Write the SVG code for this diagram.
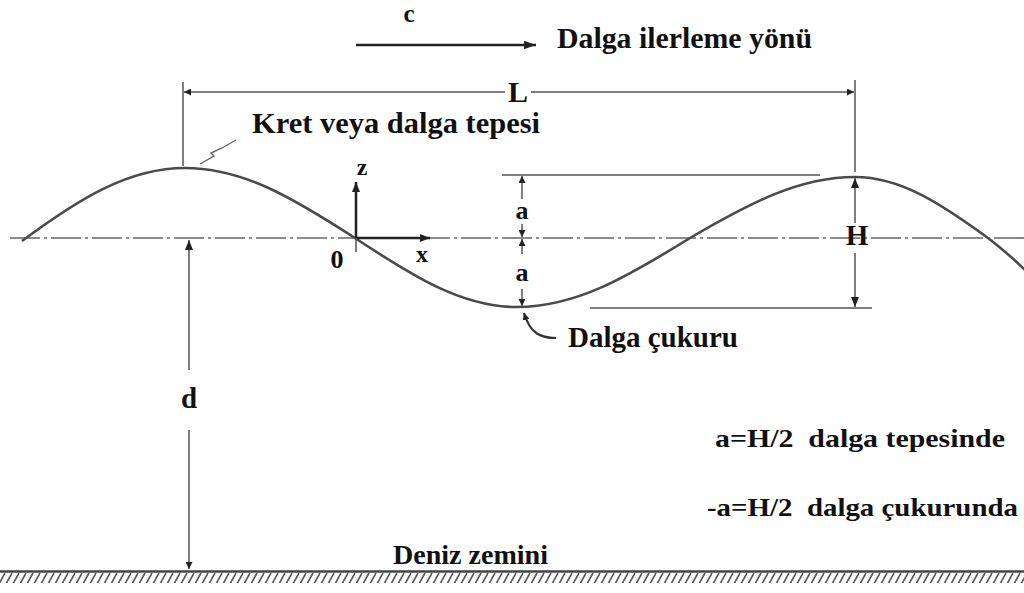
<svg xmlns="http://www.w3.org/2000/svg" width="1024" height="593" viewBox="0 0 1024 593">
<style>
.t{font-family:"Liberation Serif","Times New Roman",serif;font-weight:bold;fill:#111;}
.wave{fill:none;stroke:#4a4a4a;stroke-width:2.6;}
.dim{fill:none;stroke:#555;stroke-width:1.5;}
.ax{fill:none;stroke:#222;stroke-width:2.5;}
.mean{fill:none;stroke:#666;stroke-width:1.6;stroke-dasharray:30 4 3 4;}
</style>
<defs>
<marker id="ah" viewBox="0 0 10 10" refX="10" refY="5" markerWidth="7" markerHeight="7" markerUnits="userSpaceOnUse" orient="auto">
<path d="M0,0 L10,5 L0,10 z" fill="#222"/>
</marker>
<marker id="ahb" viewBox="0 0 10 10" refX="10" refY="5" markerWidth="10" markerHeight="10" markerUnits="userSpaceOnUse" orient="auto">
<path d="M0,1 L10,5 L0,9 z" fill="#222"/>
</marker>
<marker id="ahc" viewBox="0 0 10 10" refX="10" refY="5" markerWidth="16" markerHeight="12" markerUnits="userSpaceOnUse" orient="auto">
<path d="M0,1.5 L10,5 L0,8.5 z" fill="#222"/>
</marker>
<pattern id="hatch" x="0" y="573" width="7" height="11" patternUnits="userSpaceOnUse">
<path d="M-1,11 L5,0 M6,11 L12,0" stroke="#555" stroke-width="1.6"/>
</pattern>
</defs>

<g id="sea-floor">
<rect x="0" y="573" width="1024" height="10" fill="url(#hatch)"/>
<line x1="0" y1="571.5" x2="1024" y2="571.5" stroke="#444" stroke-width="2.4"/>
</g>

<g id="mean-level">
<line class="mean" x1="10" y1="238" x2="1024" y2="238"/>
</g>

<g id="wave">
<path class="wave" d="M22,241 C80,198 129,168 185,168 C243,168 293,198 355,238 C414,277 462,307 517,307 C576,307 627,277 690,238 C750,203 799,177 855,177 C900,177 940,203 988,238 C1005,251 1016,261 1028,273"/>
<path d="M200,164 L214,156 L211,153 L222,148 L236,140" fill="none" stroke="#666" stroke-width="1.4"/>
</g>

<g id="connectors">
<line class="ax" x1="356" y1="45" x2="536" y2="45" stroke-width="3" marker-end="url(#ahc)"/>
<line class="dim" x1="183" y1="82" x2="183" y2="166"/>
<line class="dim" x1="855" y1="80" x2="855" y2="172"/>
<line class="dim" x1="505" y1="92" x2="184" y2="92" marker-end="url(#ah)"/>
<line class="dim" x1="531" y1="92" x2="854" y2="92" marker-end="url(#ah)"/>
<line class="ax" x1="356" y1="238" x2="356" y2="182" marker-end="url(#ahb)"/>
<line class="ax" x1="356" y1="238" x2="430" y2="238" marker-end="url(#ahb)"/>
<line class="dim" x1="356" y1="238" x2="356" y2="252"/>
<line class="dim" x1="502" y1="175" x2="820" y2="175"/>
<line class="dim" x1="590" y1="308" x2="872" y2="308"/>
<line class="dim" x1="522" y1="199" x2="522" y2="176" marker-end="url(#ah)"/>
<line class="dim" x1="522" y1="224" x2="522" y2="237" marker-end="url(#ah)"/>
<line class="dim" x1="522" y1="254" x2="522" y2="239" marker-end="url(#ah)"/>
<line class="dim" x1="522" y1="289" x2="522" y2="306" marker-end="url(#ah)"/>
<line class="dim" x1="855" y1="223" x2="855" y2="178" marker-end="url(#ahb)"/>
<line class="dim" x1="855" y1="253" x2="855" y2="307" marker-end="url(#ahb)"/>
<line class="dim" x1="189" y1="370" x2="189" y2="240" marker-end="url(#ahb)"/>
<line class="dim" x1="189" y1="430" x2="189" y2="569" marker-end="url(#ah)"/>
<path d="M556,338 C540,338 530,333 524,313" fill="none" stroke="#333" stroke-width="2.2" marker-end="url(#ah)"/>
</g>

<g id="labels">
<text class="t" x="409" y="22" font-size="25" text-anchor="middle">c</text>
<text class="t" x="557" y="48" font-size="29" textLength="255" lengthAdjust="spacingAndGlyphs">Dalga ilerleme yönü</text>
<text class="t" x="518" y="102" font-size="30" text-anchor="middle">L</text>
<text class="t" x="252" y="133" font-size="30" textLength="288" lengthAdjust="spacingAndGlyphs">Kret veya dalga tepesi</text>
<text class="t" x="362" y="175" font-size="24" text-anchor="middle">z</text>
<text class="t" x="522" y="219" font-size="26" text-anchor="middle">a</text>
<text class="t" x="522" y="281" font-size="26" text-anchor="middle">a</text>
<text class="t" x="337" y="268" font-size="26" text-anchor="middle">0</text>
<text class="t" x="422" y="262" font-size="24" text-anchor="middle">x</text>
<text class="t" x="857" y="245" font-size="29" text-anchor="middle">H</text>
<text class="t" x="568" y="347" font-size="29" textLength="170" lengthAdjust="spacingAndGlyphs">Dalga çukuru</text>
<text class="t" x="189" y="408" font-size="29" text-anchor="middle">d</text>
<text class="t" x="715" y="447" font-size="25" textLength="290" lengthAdjust="spacingAndGlyphs" xml:space="preserve">a=H/2  dalga tepesinde</text>
<text class="t" x="707" y="516" font-size="25" textLength="311" lengthAdjust="spacingAndGlyphs" xml:space="preserve">-a=H/2  dalga çukurunda</text>
<text class="t" x="393" y="564" font-size="27" textLength="155" lengthAdjust="spacingAndGlyphs">Deniz zemini</text>
</g>
</svg>
